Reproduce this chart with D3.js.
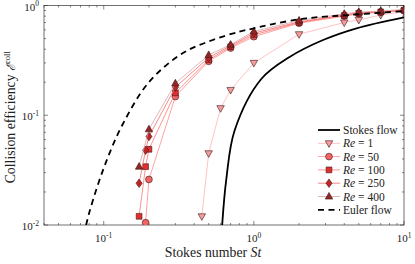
<!DOCTYPE html>
<html>
<head>
<meta charset="utf-8">
<script src="https://cdn.jsdelivr.net/npm/d3@7"></script>
<style>
  body { margin: 0; background: #fff; }
  svg { display: block; font-family: "Liberation Serif", "DejaVu Serif", serif; }
</style>
</head>
<body>
<svg id="chart" width="415" height="264"></svg>
<script>
// values
var stRe1 = [0.45, 0.5, 0.6, 0.7, 1, 2, 4, 5, 7, 10];
var eRe1 = [0.012, 0.045, 0.116, 0.17, 0.30, 0.547, 0.70, 0.74, 0.82, 0.878];

var stRe50 = [0.19, 0.2, 0.3, 0.5, 0.7, 1, 2, 4, 5, 7, 10];
var eRe50 = [0.0105, 0.026, 0.148, 0.31, 0.41, 0.52, 0.69, 0.80, 0.84, 0.865, 0.90];

var stRe100 = [0.172, 0.19, 0.2, 0.3, 0.5, 0.7, 1, 2, 4, 5, 7, 10];
var eRe100 = [0.012, 0.034, 0.049, 0.16, 0.32, 0.42, 0.54, 0.70, 0.81, 0.85, 0.875, 0.905];

var stRe250 = [0.172, 0.19, 0.2, 0.3, 0.5, 0.7, 1, 2, 4, 5, 7, 10];
var eRe250 = [0.024, 0.048, 0.064, 0.18, 0.335, 0.43, 0.56, 0.71, 0.82, 0.86, 0.88, 0.91];

var stRe400 = [0.172, 0.2, 0.3, 0.5, 0.7, 1, 2, 4, 5, 7, 10];
var eRe400 = [0.034, 0.0745, 0.195, 0.354, 0.44, 0.58, 0.73, 0.84, 0.87, 0.89, 0.92];

var stStokes = [0.615, 0.655, 0.745, 1.12, 1.73, 2.89, 4.83, 10];
var eStokes = [0.01, 0.026, 0.073, 0.214, 0.34, 0.485, 0.62, 0.78];

var stEuler = [0.0763, 0.081, 0.1, 0.133, 0.2, 0.335, 0.532, 0.8, 1, 1.34, 2.24, 4.36, 10];
var eEuler = [0.01, 0.0137, 0.033, 0.0815, 0.2, 0.367, 0.485, 0.577, 0.62, 0.678, 0.764, 0.82, 0.89];

var xTicks = [0.1, 1, 10];
var xTickExp = ["-1", "0", "1"];
var yTicks = [0.01, 0.1, 1];
var yTickExp = ["-2", "-1", "0"];

var series = [
    { name: "1", st: stRe1, e: eRe1, shape: "tridown", fill: "#f59c9c", line: "#ffb4b4" },
    { name: "50", st: stRe50, e: eRe50, shape: "circle", fill: "#f26464", line: "#ff8a8a" },
    { name: "100", st: stRe100, e: eRe100, shape: "square", fill: "#e42e2e", line: "#ff7676" },
    { name: "250", st: stRe250, e: eRe250, shape: "diamond", fill: "#c02424", line: "#f56a6a" },
    { name: "400", st: stRe400, e: eRe400, shape: "triup", fill: "#952626", line: "#d8a4a4" }
];

var margin = { top: 5.5, right: 11, bottom: 39, left: 44 };
var width = 415 - margin.left - margin.right;
var height = 264 - margin.top - margin.bottom;

var svg = d3.select("#chart");
var chart = svg.append("g")
    .attr("transform", `translate(${margin.left}, ${margin.top})`);

var x = d3.scaleLog().domain([0.04, 10]).range([0, width]);
var y = d3.scaleLog().domain([0.01, 1]).range([height, 0]);

// clip
svg.append("defs").append("clipPath").attr("id", "clip")
    .append("rect").attr("width", width).attr("height", height);

// minor ticks
var xMinor = [];
[0.01, 0.1, 1].forEach(function(d) {
    for (var k = 2; k <= 9; k++) {
        var v = d * k;
        if (v > 0.04 - 1e-9 && v < 10) xMinor.push(v);
    }
});
var yMinor = [];
[0.01, 0.1].forEach(function(d) {
    for (var k = 2; k <= 9; k++) yMinor.push(d * k);
});

var tickG = chart.append("g").attr("stroke", "#333").attr("stroke-width", 0.6);
function vTicks(vals, len) {
    vals.forEach(function(v) {
        tickG.append("line").attr("x1", x(v)).attr("x2", x(v)).attr("y1", height).attr("y2", height - len);
        tickG.append("line").attr("x1", x(v)).attr("x2", x(v)).attr("y1", 0).attr("y2", len);
    });
}
function hTicks(vals, len) {
    vals.forEach(function(v) {
        tickG.append("line").attr("y1", y(v)).attr("y2", y(v)).attr("x1", 0).attr("x2", len);
        tickG.append("line").attr("y1", y(v)).attr("y2", y(v)).attr("x1", width).attr("x2", width - len);
    });
}
vTicks(xMinor, 2);
vTicks(xTicks, 4);
hTicks(yMinor, 2);
hTicks(yTicks, 4);

// frame
chart.append("rect")
    .attr("width", width).attr("height", height)
    .attr("fill", "none").attr("stroke", "#333").attr("stroke-width", 0.7);

// tick labels
var xl = chart.append("g").attr("font-size", 11).attr("fill", "#222");
xTicks.forEach(function(v, i) {
    var t = xl.append("text").attr("x", x(v)).attr("y", height + 17).attr("text-anchor", "middle");
    t.append("tspan").text("10");
    t.append("tspan").attr("font-size", 7.5).attr("dy", -4.5).text(xTickExp[i]);
});
var yl = chart.append("g").attr("font-size", 11).attr("fill", "#222");
yTicks.forEach(function(v, i) {
    var t = yl.append("text").attr("x", -5).attr("y", y(v) + 5).attr("text-anchor", "end");
    t.append("tspan").text("10");
    t.append("tspan").attr("font-size", 7.5).attr("dy", -4.5).text(yTickExp[i]);
});

// axis titles
var xt = chart.append("text")
    .attr("x", 169).attr("y", height + 32)
    .attr("text-anchor", "middle").attr("font-size", 13.8).attr("fill", "#222");
xt.append("tspan").text("Stokes number ");
xt.append("tspan").attr("font-style", "italic").text("St");

var yt = chart.append("text")
    .attr("transform", `translate(${-29}, ${height / 2 + 2}) rotate(-90)`)
    .attr("text-anchor", "middle").attr("font-size", 13.8).attr("fill", "#222");
yt.append("tspan").text("Collision efficiency ");
yt.append("tspan").attr("font-style", "italic").attr("font-family", "DejaVu Serif").attr("font-size", 12).text("ℰ");
yt.append("tspan").attr("font-size", 8.5).attr("dy", -5.5).text("coll");

// markers
function markerPath(shape, r) {
    if (shape === "circle") return d3.symbol(d3.symbolCircle, Math.PI * r * r)();
    if (shape === "square") { var s = r * 0.85; return `M${-s},${-s}H${s}V${s}H${-s}Z`; }
    if (shape === "diamond") return `M0,${-r * 1.25}L${r * 0.9},0L0,${r * 1.25}L${-r * 0.9},0Z`;
    if (shape === "triup") return `M0,${-r * 1.2}L${r * 1.1},${r * 0.75}L${-r * 1.1},${r * 0.75}Z`;
    if (shape === "tridown") return `M0,${r * 1.2}L${r * 1.1},${-r * 0.75}L${-r * 1.1},${-r * 0.75}Z`;
}

var plot = chart.append("g").attr("clip-path", "url(#clip)");

var line = d3.line()
    .x(function(d) { return x(d[0]); })
    .y(function(d) { return y(d[1]); });

var smooth = d3.line()
    .x(function(d) { return x(d[0]); })
    .y(function(d) { return y(d[1]); })
    .curve(d3.curveCatmullRom.alpha(0.5));

series.forEach(function(s) {
    var pts = s.st.map(function(v, i) { return [v, s.e[i]]; });
    plot.append("path")
        .datum(pts)
        .attr("fill", "none")
        .attr("stroke", s.line)
        .attr("stroke-width", 0.8)
        .attr("d", line);
    plot.append("g").selectAll("path")
        .data(pts)
        .join("path")
        .attr("transform", function(d) { return `translate(${x(d[0])}, ${y(d[1])})`; })
        .attr("d", markerPath(s.shape, 3.4))
        .attr("fill", s.fill)
        .attr("stroke", "#3a1a1a")
        .attr("stroke-width", 0.6);
});

// stokes flow
plot.append("path")
    .datum(stStokes.map(function(v, i) { return [v, eStokes[i]]; }))
    .attr("fill", "none")
    .attr("stroke", "#000")
    .attr("stroke-width", 1.8)
    .attr("d", smooth);

// euler flow
plot.append("path")
    .datum(stEuler.map(function(v, i) { return [v, eEuler[i]]; }))
    .attr("fill", "none")
    .attr("stroke", "#000")
    .attr("stroke-width", 1.8)
    .attr("stroke-dasharray", "6,4.5")
    .attr("d", smooth);

// legend
var lg = svg.append("g").attr("font-size", 11.5).attr("fill", "#222");
var lx1 = 318, lx2 = 340, ly0 = 130, ldy = 13.3;
function legendLabel(t, i, re) {
    var txt = lg.append("text").attr("x", lx2 + 3).attr("y", ly0 + i * ldy + 4);
    if (re) {
        txt.append("tspan").attr("font-style", "italic").text("Re");
        txt.append("tspan").text(" = " + re);
    } else {
        txt.text(t);
    }
}
lg.append("line").attr("x1", lx1).attr("x2", lx2).attr("y1", ly0).attr("y2", ly0)
    .attr("stroke", "#000").attr("stroke-width", 1.8);
legendLabel("Stokes flow", 0);
series.forEach(function(s, i) {
    var yy = ly0 + (i + 1) * ldy;
    lg.append("line").attr("x1", lx1).attr("x2", lx2).attr("y1", yy).attr("y2", yy)
        .attr("stroke", s.line).attr("stroke-width", 0.8);
    lg.append("path")
        .attr("transform", `translate(${(lx1 + lx2) / 2}, ${yy})`)
        .attr("d", markerPath(s.shape, 3.4))
        .attr("fill", s.fill)
        .attr("stroke", "#3a1a1a")
        .attr("stroke-width", 0.6);
    legendLabel("", i + 1, s.name);
});
var ey = ly0 + 6 * ldy;
lg.append("line").attr("x1", lx1).attr("x2", lx2).attr("y1", ey).attr("y2", ey)
    .attr("stroke", "#000").attr("stroke-width", 1.8).attr("stroke-dasharray", "6,4.5");
legendLabel("Euler flow", 6);
</script>
</body>
</html>
